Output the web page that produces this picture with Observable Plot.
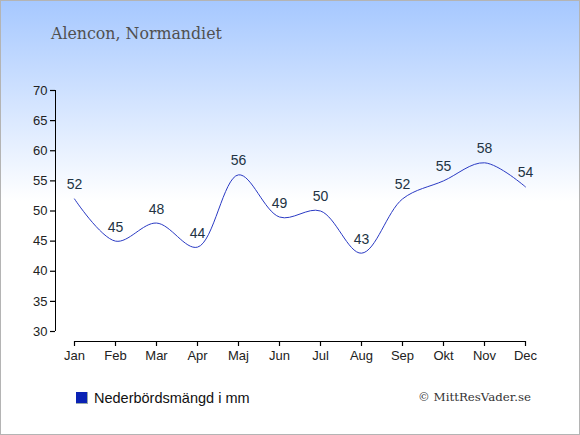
<!DOCTYPE html>
<html>
<head>
<meta charset="utf-8">
<script src="https://cdn.jsdelivr.net/npm/d3@7"></script>
<script src="https://cdn.jsdelivr.net/npm/@observablehq/plot@0.6"></script>
<style>
  html, body { margin: 0; padding: 0; background: #fff; }
  #wrap {
    position: relative; width: 580px; height: 435px; box-sizing: border-box;
    border: 1px solid #b4b4b4;
    background: linear-gradient(to bottom, #a6c8ff 0px, #ffffff 200px, #ffffff 435px);
    overflow: hidden;
  }
  #title {
    height: 79px; box-sizing: border-box; padding: 23px 0 0 50px;
    font-family: "DejaVu Serif", serif; font-size: 15.8px; color: #505050;
  }
  #chart svg { display: block; background: transparent; }
  #legend {
    position: absolute; left: 75px; top: 389px;
    font-family: "Liberation Sans", Arial, sans-serif; font-size: 14.5px; color: #111;
    display: flex; align-items: center;
  }
  #legend .sw { width: 11px; height: 11px; background: #0a22b4; margin-right: 6px; border-right: 1px solid #9aa; border-bottom: 1px solid #9aa; }
  #credit {
    position: absolute; left: 417px; top: 389px;
    font-family: "DejaVu Serif", serif; font-size: 11.8px; color: #333;
  }
</style>
</head>
<body>
<div id="wrap">
  <div id="title">Alencon, Normandiet</div>
  <div id="chart"></div>
  <div id="legend"><span class="sw"></span>Nederbördsmängd i mm</div>
  <div id="credit">© MittResVader.se</div>
</div>
<script>
const months = ["Jan","Feb","Mar","Apr","Maj","Jun","Jul","Aug","Sep","Okt","Nov","Dec"];
const precip = [52,45,48,44,56,49,50,43,52,55,58,54];
const yTicks = [30,35,40,45,50,55,60,65,70];

const data = months.map((m, i) => ({month: m, value: precip[i]}));

const plot = Plot.plot({
  width: 578,
  height: 290,
  marginLeft: 54,
  marginRight: 20,
  marginTop: 10,
  marginBottom: 29,
  style: {background: "transparent", fontFamily: "Liberation Sans, Arial, sans-serif", fontSize: "13px", color: "#222"},
  x: {type: "point", domain: months, range: [73, 524], padding: 0},
  y: {domain: [30, 70], range: [251, 10]},
  marks: [
    Plot.axisY({ticks: yTicks, tickSize: 5, tickPadding: 3, anchor: "left", label: null, fontSize: 13, stroke: "#000", strokeOpacity: 1, strokeWidth: 1.2}),
    Plot.axisX({tickSize: 5, tickPadding: 4, label: null, fontSize: 13, stroke: "#000", strokeOpacity: 1, strokeWidth: 1.2}),
    Plot.ruleX([0], {x: () => months[0], y1: () => 30, y2: () => 70, dx: -19, stroke: "#000"}),
    Plot.ruleY([30], {x1: () => months[0], x2: () => months[months.length - 1], dy: 10, stroke: "#000"}),
    Plot.line(data, {x: "month", y: "value", curve: "catmull-rom", stroke: "#2a3ac4", strokeWidth: 1}),
    Plot.text(data, {x: "month", y: "value", text: d => String(d.value), dy: -14, fontSize: 14, fill: "#223344"})
  ]
});
document.getElementById("chart").appendChild(plot);
</script>
</body>
</html>
